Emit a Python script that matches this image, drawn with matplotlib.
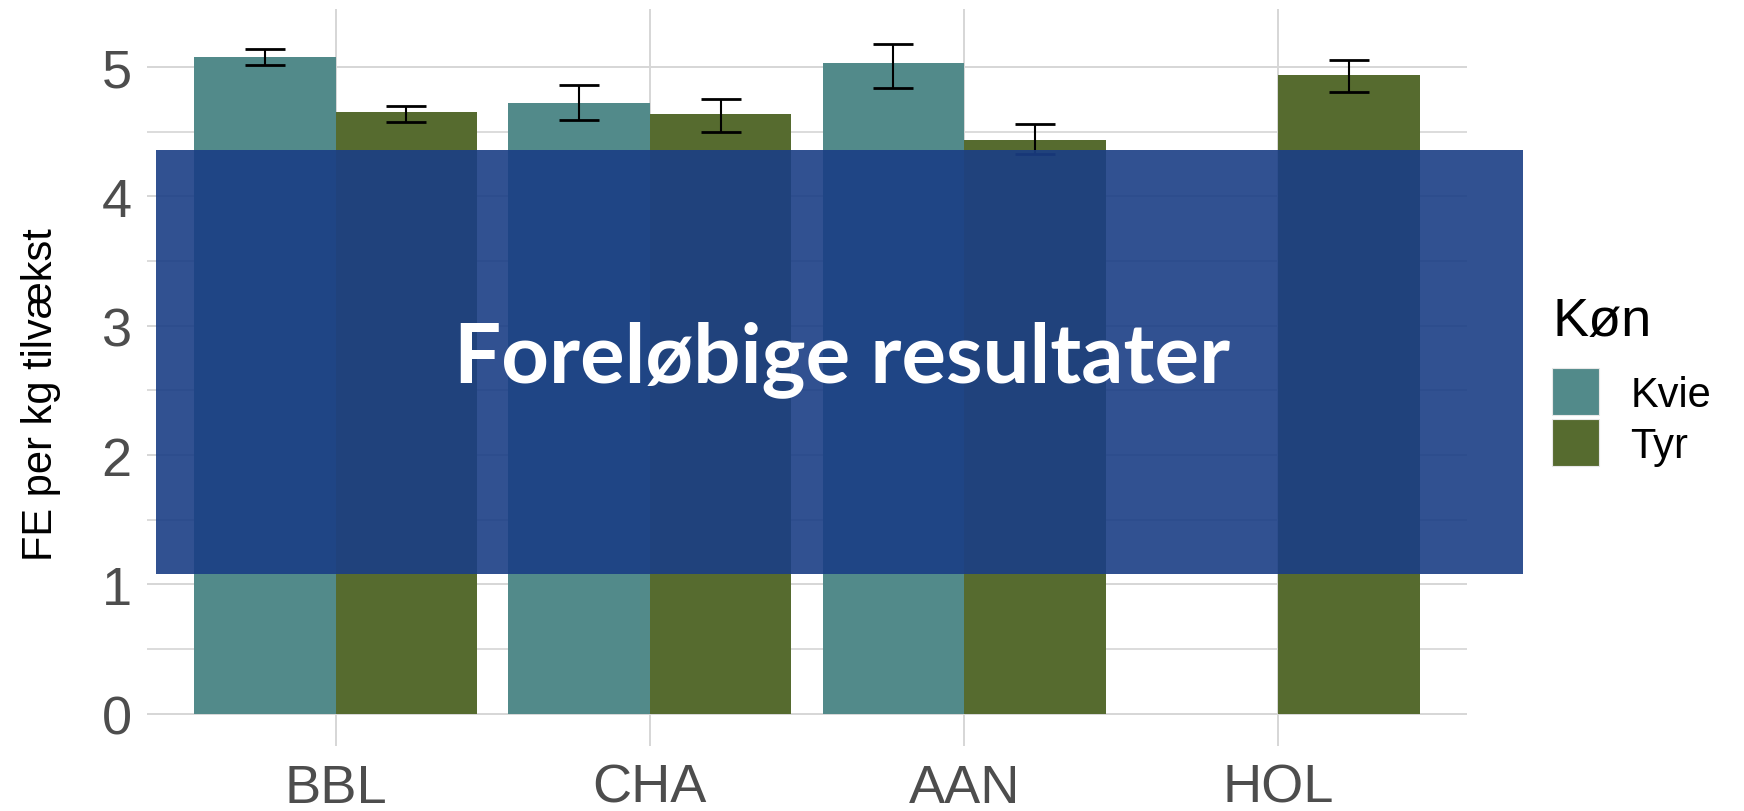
import numpy as np
import matplotlib
matplotlib.use('Agg')
import matplotlib.pyplot as plt
from matplotlib.patches import Patch, Rectangle

# Data
breeds = ['BBL', 'CHA', 'AAN', 'HOL']
sexes = ['Kvie', 'Tyr']
kvie_mean = [5.08, 4.72, 5.03, np.nan]
kvie_lo = [5.02, 4.59, 4.84, np.nan]
kvie_hi = [5.14, 4.86, 5.18, np.nan]
tyr_mean = [4.65, 4.635, 4.44, 4.94]
tyr_lo = [4.575, 4.50, 4.33, 4.805]
tyr_hi = [4.70, 4.755, 4.56, 5.055]

banner_text = 'Foreløbige resultater'
colors = ['#528a8a', '#566b2f']

plt.rcParams['font.family'] = ['Liberation Sans', 'DejaVu Sans']

W, H = 1744, 812
fig = plt.figure(figsize=(W / 100, H / 100), dpi=100)
ax = fig.add_axes([147 / W, (H - 747) / H, (1467 - 147) / W, (747 - 10) / H])

x = np.arange(len(breeds))
bw = 0.45
series = [(kvie_mean, kvie_lo, kvie_hi), (tyr_mean, tyr_lo, tyr_hi)]
for i, (m, lo, hi) in enumerate(series):
    m = np.array(m, dtype=float)
    lo = np.array(lo, dtype=float)
    hi = np.array(hi, dtype=float)
    ok = ~np.isnan(m)
    xs = x[ok] + (i - 0.5) * bw
    ax.bar(xs, m[ok], width=bw, color=colors[i], zorder=2, label=sexes[i])
    ax.errorbar(xs, m[ok], yerr=[m[ok] - lo[ok], hi[ok] - m[ok]], fmt='none',
                ecolor='black', elinewidth=1.5, capsize=14.6, capthick=2.0, zorder=3)

ax.set_xlim(-0.6, 3.6)
ax.set_ylim(-0.25, 5.45)
ax.set_xticks(x)
ax.set_xticklabels(breeds)
ax.set_yticks([0, 1, 2, 3, 4, 5])
ax.set_yticks(np.arange(0.5, 5.5, 1.0), minor=True)
ax.grid(True, which='major', color='#d6d6d6', linewidth=1.4, zorder=0)
ax.grid(True, which='minor', axis='y', color='#d6d6d6', linewidth=1.2, zorder=0)
ax.set_axisbelow(True)
for s in ax.spines.values():
    s.set_visible(False)
ax.tick_params(axis='both', which='both', length=0, labelsize=39, labelcolor='#4d4d4d')
ax.tick_params(axis='y', pad=11)
ax.tick_params(axis='x', pad=12)

ax.set_ylabel('FE per kg tilvækst', fontsize=30, color='black')
ax.yaxis.set_label_coords(-0.065, 0.478)

handles = [Patch(facecolor=c, edgecolor='#e8e8e8', linewidth=0.8) for c in colors]
leg = ax.legend(handles, sexes, title='Køn', loc='upper left',
                bbox_to_anchor=(1552 / W, (H - 297) / H), bbox_transform=fig.transFigure,
                frameon=False, fontsize=30, title_fontsize=39, borderpad=0,
                handlelength=1.13, handleheight=1.36, labelspacing=0.1,
                handletextpad=0.75, borderaxespad=0)
leg._legend_box.align = 'left'
leg._legend_box.sep = 16  # gap between title and keys

# overlay banner
fig.patches.append(Rectangle((156 / W, (H - 575) / H), (1523 - 156) / W, 424 / H,
                             transform=fig.transFigure, facecolor=(26 / 255, 62 / 255, 133 / 255),
                             alpha=0.9, zorder=10, edgecolor='none'))
fig.text(842 / W, (H - 360) / H, banner_text, color='white', fontsize=60,
         fontweight='bold', family=['Lato', 'DejaVu Sans'], ha='center', va='center', zorder=11)

fig.savefig('out.png', dpi=100)
